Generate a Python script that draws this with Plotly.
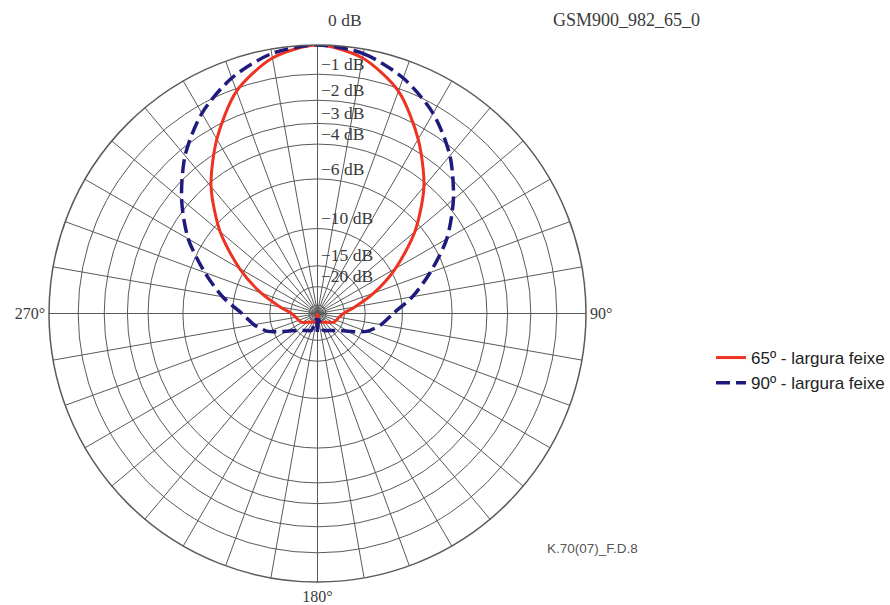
import plotly.graph_objects as go

# Horizontal radiation patterns (relative gain, dB) sampled every 10 degrees, 0..180
angles_half = [0, 10, 20, 30, 40, 50, 60, 70, 80, 90,
               100, 110, 120, 130, 140, 150, 160, 170, 180]
gain_65 = [0.0, -0.3, -1.1, -2.5, -4.2, -6.5, -9.5, -13.0, -17.0, -20.3,
           -21.8, -22.6, -23.6, -26.0, -27.5, -28.6, -29.3, -32.0, -50.0]
gain_90 = [0.0, -0.15, -0.6, -1.3, -2.3, -3.6, -5.1, -7.0, -8.9, -11.0,
           -12.4, -14.2, -17.6, -20.2, -21.6, -22.7, -23.4, -33.0, -22.5]

# Radial grid rings (dB) and the ones that carry a label
ring_db = [0, -1, -2, -3, -4, -6, -10, -15, -20, -30]
label_db = [-1, -2, -3, -4, -6, -10, -15, -20]

series_names = ["65º - largura feixe", "90º - largura feixe"]


def to_amp(db):
    return 10 ** (db / 20.0)


def full_circle(half):
    # patterns are symmetric about the boresight
    thetas = list(angles_half) + [360 - a for a in reversed(angles_half[:-1])]
    vals = list(half) + list(reversed(half[:-1]))
    return thetas, vals


serif = "Liberation Serif"
sans = "Liberation Sans"
grid_col = "#5a5a5a"
text_col = "#3a3a3a"
serif_size = 17.5

fig = go.Figure()

th65, g65 = full_circle(gain_65)
th90, g90 = full_circle(gain_90)

fig.add_trace(go.Scatterpolar(
    r=[to_amp(v) for v in g65], theta=th65, mode="lines",
    name=series_names[0],
    line=dict(color="#ee3322", width=3, shape="spline", smoothing=0.8),
    hoverinfo="skip",
))
fig.add_trace(go.Scatterpolar(
    r=[to_amp(v) for v in g90], theta=th90, mode="lines",
    name=series_names[1],
    line=dict(color="#1e1b7d", width=3.5, dash="14px,6px", shape="spline", smoothing=0.8),
    hoverinfo="skip",
))

# dB labels along the boresight
fig.add_trace(go.Scatterpolar(
    r=[to_amp(v) for v in label_db], theta=[0] * len(label_db),
    mode="text", text=["\u2009\u2212%d dB" % (-v) for v in label_db],
    textposition="top right",
    textfont=dict(family=serif, size=serif_size, color=text_col),
    showlegend=False, hoverinfo="skip",
))

ang_vals = list(range(0, 360, 10))
ang_text = ["%d°" % a if a in (90, 180, 270) else "" for a in ang_vals]

fig.update_layout(
    width=890, height=605,
    margin=dict(l=0, r=0, t=0, b=0, autoexpand=False),
    paper_bgcolor="white",
    plot_bgcolor="white",
    polar=dict(
        domain=dict(x=[49 / 890, 586 / 890], y=[22.5 / 605, 560.5 / 605]),
        bgcolor="white",
        radialaxis=dict(
            range=[0, 1],
            tickvals=[to_amp(v) for v in ring_db],
            showticklabels=False,
            ticks="",
            showline=False,
            gridcolor=grid_col,
            gridwidth=1.3,
        ),
        angularaxis=dict(
            rotation=90,
            direction="clockwise",
            tickvals=ang_vals,
            ticktext=ang_text,
            ticks="",
            tickfont=dict(family=serif, size=16, color=text_col),
            showline=True,
            linecolor=grid_col,
            linewidth=1.5,
            gridcolor=grid_col,
            gridwidth=1.3,
        ),
    ),
    showlegend=True,
    legend=dict(
        x=711 / 890, y=(605 - 340) / 605, xanchor="left", yanchor="top",
        font=dict(family=sans, size=17, color="#222222"),
        bgcolor="rgba(0,0,0,0)",
        tracegroupgap=0,
    ),
    annotations=[
        dict(text="0 dB", x=345 / 890, y=(605 - 20) / 605,
             xref="paper", yref="paper", showarrow=False,
             xanchor="center", yanchor="middle",
             font=dict(family=serif, size=serif_size, color=text_col)),
        dict(text="GSM900_982_65_0", x=626 / 890, y=(605 - 20) / 605,
             xref="paper", yref="paper", showarrow=False,
             xanchor="center", yanchor="middle",
             font=dict(family=serif, size=18, color=text_col)),
        dict(text="K.70(07)_F.D.8", x=592 / 890, y=(605 - 548) / 605,
             xref="paper", yref="paper", showarrow=False,
             xanchor="center", yanchor="middle",
             font=dict(family=sans, size=13.5, color="#555555")),
    ],
)

fig.write_html("out.html")
